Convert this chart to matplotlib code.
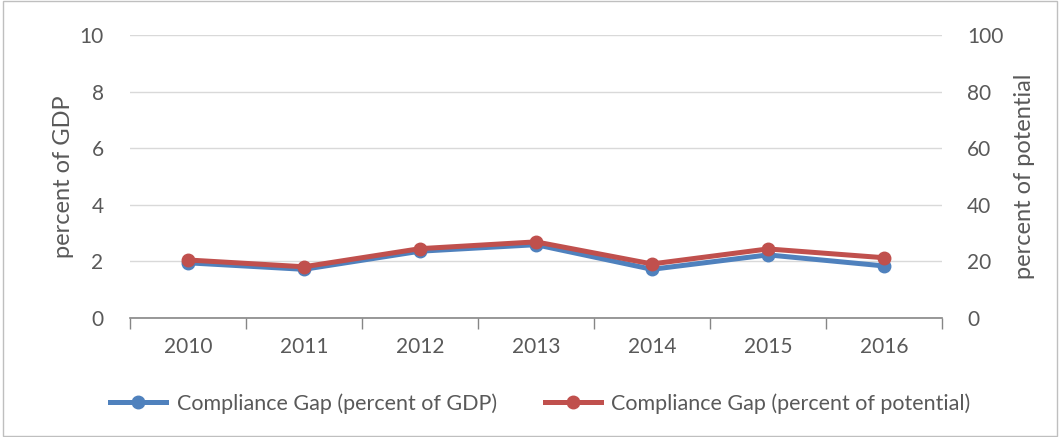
import matplotlib.pyplot as plt
import numpy as np
from matplotlib.patches import Rectangle

years = ['2010', '2011', '2012', '2013', '2014', '2015', '2016']
gap_gdp = [1.95, 1.72, 2.36, 2.59, 1.72, 2.23, 1.84]
gap_potential = [20.5, 18.1, 24.5, 26.9, 19.1, 24.4, 21.3]

plt.rcParams['font.family'] = ['Lato', 'DejaVu Sans']
txt = '#595959'

fig = plt.figure(figsize=(10.6, 4.37), dpi=100)
ax = fig.add_axes([0.1226, 0.2723, 0.766, 0.6477])
ax2 = ax.twinx()

x = np.arange(len(years))
ax.plot(x, gap_gdp, color='#4f81bd', lw=3.6, marker='o', ms=9, zorder=3,
        label='Compliance Gap (percent of GDP)')
ax2.plot(x, gap_potential, color='#c0504d', lw=3.6, marker='o', ms=9, zorder=3,
         label='Compliance Gap (percent of potential)')

ax.set_xlim(-0.5, len(years) - 0.5)
ax.set_ylim(0, 10)
ax2.set_ylim(0, 100)
ax.set_yticks(range(0, 11, 2))
ax2.set_yticks(range(0, 101, 20))
ax.grid(axis='y', color='#d9d9d9', lw=1)
ax.set_axisbelow(True)

ax.set_xticks(x)
ax.set_xticklabels(years)
ax.set_xticks(np.arange(-0.5, len(years), 1), minor=True)
ax.tick_params(axis='x', which='major', length=0, pad=14, labelsize=15, labelcolor=txt)
ax.tick_params(axis='x', which='minor', length=8, width=1, color='#868686', direction='out')
ax.tick_params(axis='y', length=0, pad=19, labelsize=15, labelcolor=txt)
ax2.tick_params(axis='y', length=0, pad=18, labelsize=15, labelcolor=txt)

for a in (ax, ax2):
    for s in a.spines.values():
        s.set_visible(False)
ax.spines['bottom'].set_visible(True)
ax.spines['bottom'].set_color('#868686')
ax.spines['bottom'].set_linewidth(1.2)

ax.set_ylabel('percent of GDP', fontsize=17, color=txt, labelpad=4)
ax2.set_ylabel('percent of potential', fontsize=17, color=txt, labelpad=8)

h1, l1 = ax.get_legend_handles_labels()
h2, l2 = ax2.get_legend_handles_labels()
fig.legend(h1 + h2, l1 + l2, loc='center', bbox_to_anchor=(0.51, 0.077), ncol=2,
           frameon=False, fontsize=15.5, labelcolor=txt, handlelength=2.6,
           columnspacing=2.2, handletextpad=0.5)

fig.patches.append(Rectangle((0.003, 0.003), 0.994, 0.994, transform=fig.transFigure,
                             fill=False, edgecolor='#bfbfbf', lw=1))

fig.savefig('out.png', dpi=100)
